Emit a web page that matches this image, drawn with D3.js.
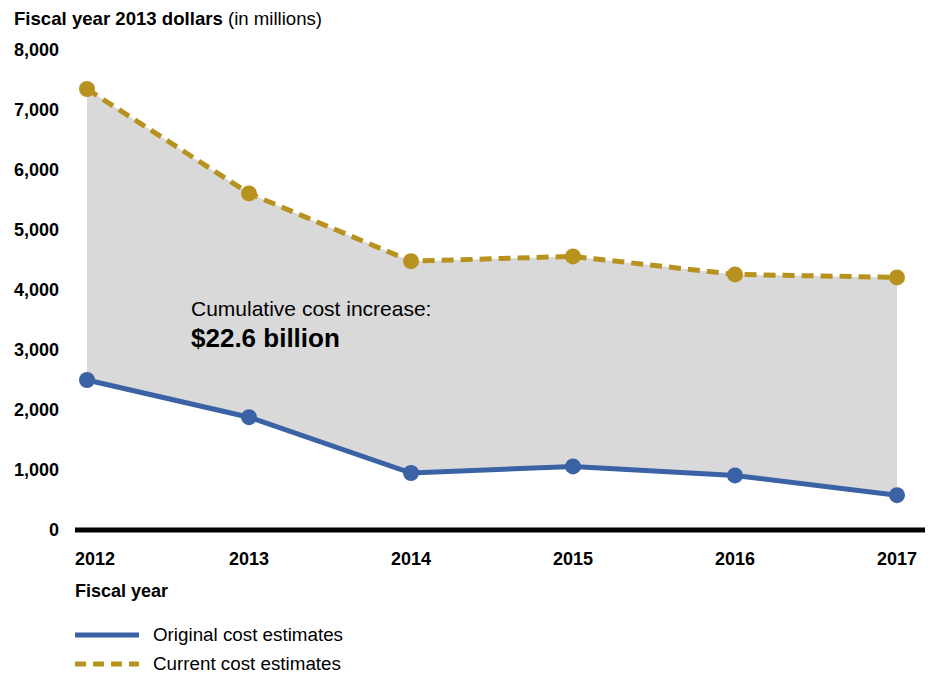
<!DOCTYPE html>
<html>
<head>
<meta charset="utf-8">
<script src="https://cdn.jsdelivr.net/npm/d3@7"></script>
<style>
  body { margin: 0; background: #fff; }
  svg text { font-family: "Liberation Sans", Arial, sans-serif; fill: #000; }
  .tick-label { font-size: 18px; font-weight: bold; }
</style>
</head>
<body>
<div id="chart"></div>
<script>
// data
var years = [2012, 2013, 2014, 2015, 2016, 2017];
var original = [2500, 1880, 950, 1060, 910, 580];
var current = [7350, 5610, 4480, 4560, 4260, 4210];
var yTicks = [0, 1000, 2000, 3000, 4000, 5000, 6000, 7000, 8000];

var W = 930, H = 674;
var blue = "#3a62a4", gold = "#b8921f", grey = "#d9d9d9";

var svg = d3.select("#chart").append("svg")
  .attr("width", W).attr("height", H);

/* Scales */
var xScale = d3.scaleLinear().domain([2012, 2017]).range([87, 897]);
var yScale = d3.scaleLinear().domain([0, 8000]).range([530, 50]);

var rows = years.map((y, i) => ({ year: y, orig: original[i], cur: current[i] }));

/* Grey area between the two series */
var area = d3.area()
  .x(d => xScale(d.year))
  .y0(d => yScale(d.orig))
  .y1(d => yScale(d.cur));

svg.append("path")
  .datum(rows)
  .attr("d", area)
  .style("fill", grey);

/* Baseline */
svg.append("line")
  .attr("x1", 75).attr("x2", 925)
  .attr("y1", yScale(0)).attr("y2", yScale(0))
  .style("stroke", "#000").style("stroke-width", 5);

/* Y axis labels */
svg.append("g").selectAll("text")
  .data(yTicks)
  .enter().append("text")
  .attr("class", "tick-label")
  .attr("x", 59)
  .attr("y", d => yScale(d) + 6)
  .attr("text-anchor", "end")
  .text(d => d3.format(",")(d));

/* X axis labels: first sits on the axis start, last ends at the axis end */
var last = years.length - 1;
svg.append("g").selectAll("text")
  .data(years)
  .enter().append("text")
  .attr("class", "tick-label")
  .attr("x", (d, i) => i == 0 ? 75 : i == last ? 917 : xScale(d))
  .attr("y", 565)
  .attr("text-anchor", (d, i) => i == 0 ? "start" : i == last ? "end" : "middle")
  .text(d => d);

/* Lines */
var lineOrig = d3.line().x(d => xScale(d.year)).y(d => yScale(d.orig));
var lineCur = d3.line().x(d => xScale(d.year)).y(d => yScale(d.cur));

svg.append("path").datum(rows)
  .attr("d", lineOrig)
  .style("fill", "none").style("stroke", blue).style("stroke-width", 5);

svg.append("path").datum(rows)
  .attr("d", lineCur)
  .style("fill", "none").style("stroke", gold).style("stroke-width", 5)
  .style("stroke-dasharray", "12,7");

/* Points */
svg.append("g").selectAll("circle")
  .data(rows).enter().append("circle")
  .attr("cx", d => xScale(d.year)).attr("cy", d => yScale(d.orig))
  .attr("r", 8).style("fill", blue);

svg.append("g").selectAll("circle")
  .data(rows).enter().append("circle")
  .attr("cx", d => xScale(d.year)).attr("cy", d => yScale(d.cur))
  .attr("r", 8).style("fill", gold);

/* Title */
var title = svg.append("text").attr("x", 14).attr("y", 25).style("font-size", "18.6px");
title.append("tspan").style("font-weight", "bold").text("Fiscal year 2013 dollars");
title.append("tspan").text(" (in millions)");

/* Annotation */
svg.append("text").attr("x", 191).attr("y", 316)
  .style("font-size", "21px").text("Cumulative cost increase:");
svg.append("text").attr("x", 191).attr("y", 347)
  .style("font-size", "26px").style("font-weight", "bold").text("$22.6 billion");

/* Axis title */
svg.append("text").attr("x", 75).attr("y", 597)
  .style("font-size", "18px").style("font-weight", "bold").text("Fiscal year");

/* Legend */
var legend = [
  { label: "Original cost estimates", color: blue, dash: null },
  { label: "Current cost estimates", color: gold, dash: "11,7" }
];
var lg = svg.append("g").selectAll("g")
  .data(legend).enter().append("g")
  .attr("transform", (d, i) => `translate(75, ${635 + i * 29})`);
lg.append("line")
  .attr("x1", 0).attr("x2", 64).attr("y1", 0).attr("y2", 0)
  .style("stroke", d => d.color).style("stroke-width", 5)
  .style("stroke-dasharray", d => d.dash);
lg.append("text")
  .attr("x", 78).attr("y", 6)
  .style("font-size", "18.8px")
  .text(d => d.label);
</script>
</body>
</html>
